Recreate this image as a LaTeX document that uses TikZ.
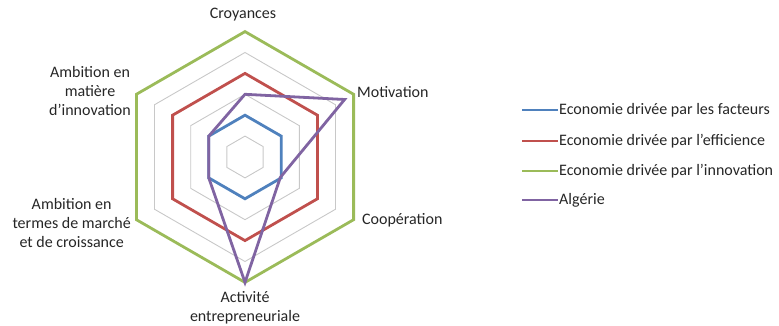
\documentclass[tikz,border=0pt]{standalone}
\usepackage{fontspec}
\setmainfont{Carlito}
\definecolor{cblue}{HTML}{4F81BD}
\definecolor{cred}{HTML}{C0504D}
\definecolor{cgreen}{HTML}{9BBB59}
\definecolor{cpurple}{HTML}{8064A2}
\definecolor{cgrid}{HTML}{C8C8C8}
\definecolor{ctext}{HTML}{262626}
\begin{document}
\begin{tikzpicture}[x=1pt,y=1pt,
  gridline/.style={draw=cgrid,line width=0.9pt},
  series/.style={line width=2.8pt,line join=miter},
  lbl/.style={inner sep=0pt,text=ctext,font=\fontsize{16}{19}\selectfont},
  leglbl/.style={inner sep=0pt,anchor=west,text=ctext,font=\fontsize{16}{19}\selectfont},
  legline/.style={line width=2.8pt}]
\useasboundingbox (0,0) rectangle (779,326);
\begin{scope}[shift={(245,169)}]
  \foreach \l in {1,...,6}
    \draw[gridline] (90:{\l*20.9}) -- (30:{\l*20.9}) -- (-30:{\l*20.9}) -- (-90:{\l*20.9}) -- (210:{\l*20.9}) -- (150:{\l*20.9}) -- cycle;
  \draw[series,cblue] (90:41.8) -- (30:41.8) -- (-30:41.8) -- (-90:41.8) -- (210:41.8) -- (150:41.8) -- cycle;
  \draw[series,cred] (90:83.6) -- (30:83.6) -- (-30:83.6) -- (-90:83.6) -- (210:83.6) -- (150:83.6) -- cycle;
  \draw[series,cgreen] (90:125.4) -- (30:125.4) -- (-30:125.4) -- (-90:125.4) -- (210:125.4) -- (150:125.4) -- cycle;
  \coordinate (p1) at (90:62.7);
  \coordinate (p2) at (30:115);
  \coordinate (p3) at (-30:40.8);
  \coordinate (p4) at (-90:125.4);
  \coordinate (p5) at (210:41.8);
  \coordinate (p6) at (150:41.8);
  \draw[series,cpurple] (p1) -- (p2) -- (p3) -- (p4) -- (p5) -- (p6) -- cycle;
\end{scope}
\node[lbl] (croy) at (243,311) {Croyances};
\node[lbl,anchor=west] (motiv) at (357,234) {Motivation};
\node[lbl,anchor=west] (coop) at (362,106) {Coopération};
\node[lbl,align=center] (activ) at (245,18) {Activité\\entrepreneuriale};
\node[lbl,align=center,anchor=east] (ambinno) at (131,235) {Ambition en\\matière\\d’innovation};
\node[lbl,align=center,anchor=east] (ambmarche) at (131,103) {Ambition en\\termes de marché\\et de croissance};
\coordinate (l1a) at (522,216); \coordinate (l1b) at (558,216);
\coordinate (l2a) at (522,185); \coordinate (l2b) at (558,185);
\coordinate (l3a) at (522,155); \coordinate (l3b) at (558,155);
\coordinate (l4a) at (522,126); \coordinate (l4b) at (558,126);
\draw[legline,cblue] (l1a) -- (l1b);
\draw[legline,cred] (l2a) -- (l2b);
\draw[legline,cgreen] (l3a) -- (l3b);
\draw[legline,cpurple] (l4a) -- (l4b);
\node[leglbl] (t1) at (559,216) {Economie drivée par les facteurs};
\node[leglbl] (t2) at (559,185) {Economie drivée par l’efficience};
\node[leglbl] (t3) at (559,155) {Economie drivée par l’innovation};
\node[leglbl] (t4) at (559,126) {Algérie};
\end{tikzpicture}
\end{document}
